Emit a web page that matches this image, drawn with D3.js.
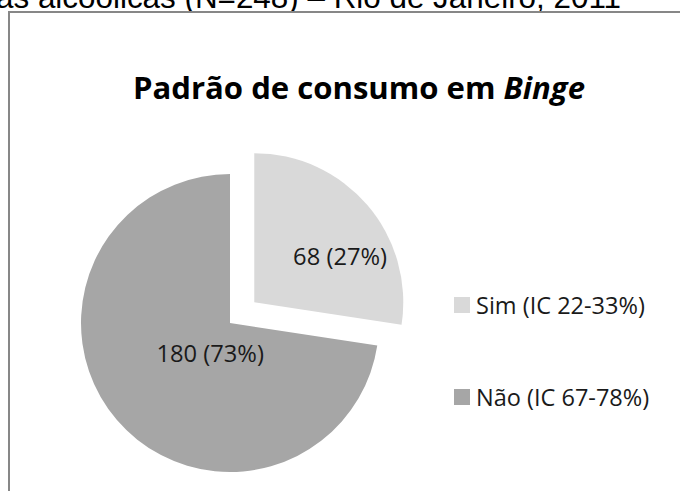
<!DOCTYPE html>
<html>
<head>
<meta charset="utf-8">
<script src="https://cdn.jsdelivr.net/npm/d3@7"></script>
<style>
  html, body { margin: 0; padding: 0; background: #fff; overflow: hidden; }
  svg { display: block; }
</style>
</head>
<body>
<svg id="chart"></svg>
<script>
// data
const categories = ["Sim", "Não"];
const counts = [68, 180];
const percents = [27, 73];
const legendLabels = ["Sim (IC 22-33%)", "Não (IC 67-78%)"];
const sliceColors = ["#d9d9d9", "#a6a6a6"];
const headerText = "as alcoólicas (N=248) – Rio de Janeiro, 2011";

const width = 680;
const height = 491;
const bodyFont = "'Open Sans', 'Noto Sans', sans-serif";

const svg = d3.select("#chart")
  .attr("width", width)
  .attr("height", height);

// shrink/grow font so the text spans a target width
function fitText(sel, target) {
  const size = parseFloat(sel.attr("font-size"));
  const w = sel.node().getComputedTextLength();
  sel.attr("font-size", (size * target / w).toFixed(2));
}

// caption above the chart frame, cut by the top edge as in the source
svg.append("text")
  .attr("x", 621)
  .attr("y", 8)
  .attr("text-anchor", "end")
  .attr("font-family", "'Liberation Sans', Arial, sans-serif")
  .attr("font-size", 31.4)
  .attr("fill", "#000")
  .text(headerText);

// chart frame (runs off the right and bottom edges)
svg.append("rect")
  .attr("x", 9)
  .attr("y", 12)
  .attr("width", 720)
  .attr("height", 520)
  .attr("fill", "#fff")
  .attr("stroke", "#878787")
  .attr("stroke-width", 2);

// title
const title = svg.append("text")
  .attr("x", 359)
  .attr("y", 99)
  .attr("text-anchor", "middle")
  .attr("font-family", bodyFont)
  .attr("font-weight", "bold")
  .attr("font-size", 26)
  .attr("fill", "#000");
title.append("tspan").text("Padrão de consumo em ");
title.append("tspan").attr("font-style", "italic").text("Binge");
fitText(title, 452);

// pie
const center = [230, 323];
const radius = 149;
const explode = 32;

const pie = d3.pie().sort(null).startAngle(0).endAngle(2 * Math.PI);
const arcs = pie(counts);
const arc = d3.arc().innerRadius(0).outerRadius(radius);
const labelArc = d3.arc().innerRadius(radius * 0.6).outerRadius(radius * 0.6);

// first slice is pulled out
const offsets = arcs.map((a, i) => {
  if (i !== 0) return [0, 0];
  const mid = (a.startAngle + a.endAngle) / 2;
  return [explode * Math.sin(mid), -explode * Math.cos(mid)];
});

// label nudges to follow Excel's best-fit placement
const labelNudge = [[18, 12], [48, -28]];

const g = svg.append("g")
  .attr("transform", `translate(${center[0]},${center[1]})`);

const slices = g.selectAll("g.slice")
  .data(arcs)
  .join("g")
  .attr("class", "slice")
  .attr("transform", (d, i) => `translate(${offsets[i][0]},${offsets[i][1]})`);

slices.append("path")
  .attr("d", arc)
  .attr("fill", (d, i) => sliceColors[i]);

const labels = slices.append("text")
  .attr("x", (d, i) => labelArc.centroid(d)[0] + labelNudge[i][0])
  .attr("y", (d, i) => labelArc.centroid(d)[1] + labelNudge[i][1])
  .attr("text-anchor", "middle")
  .attr("dominant-baseline", "central")
  .attr("font-family", bodyFont)
  .attr("font-size", 22)
  .attr("fill", "#1a1a1a")
  .text((d, i) => `${counts[i]} (${percents[i]}%)`);
fitText(labels.filter((d, i) => i === 0), 94);
labels.attr("font-size", labels.filter((d, i) => i === 0).attr("font-size"));

// legend
const legendY = d3.scalePoint()
  .domain(categories)
  .range([305, 397]);

const legend = svg.append("g");
const items = legend.selectAll("g")
  .data(categories)
  .join("g")
  .attr("transform", d => `translate(454,${legendY(d)})`);

items.append("rect")
  .attr("x", 0)
  .attr("y", -8)
  .attr("width", 16)
  .attr("height", 16)
  .attr("fill", (d, i) => sliceColors[i]);

const legendText = items.append("text")
  .attr("x", 22)
  .attr("y", 0)
  .attr("dominant-baseline", "central")
  .attr("font-family", bodyFont)
  .attr("font-size", 22)
  .attr("fill", "#1a1a1a")
  .text((d, i) => legendLabels[i]);
fitText(legendText.filter((d, i) => i === 0), 169);
legendText.attr("font-size", legendText.filter((d, i) => i === 0).attr("font-size"));
</script>
</body>
</html>
